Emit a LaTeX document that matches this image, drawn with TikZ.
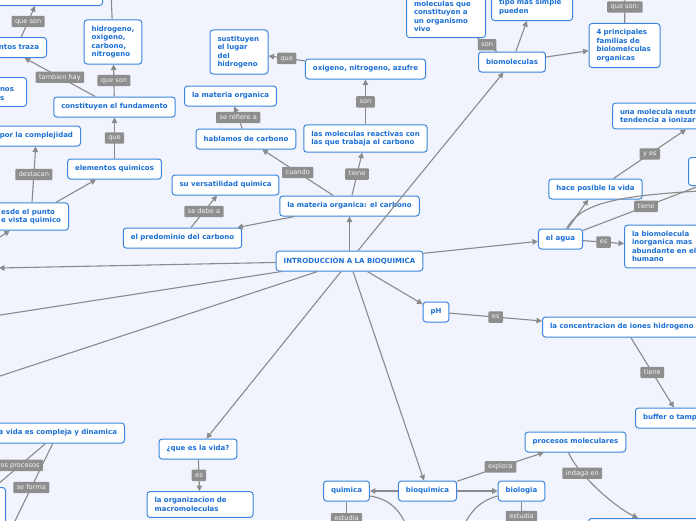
\documentclass[tikz,border=0pt]{standalone}
\usepackage{fontspec}
\setsansfont{DejaVu Sans}
\usepackage{tikz}
\usetikzlibrary{arrows.meta}
\definecolor{paper}{HTML}{F1F4FC}
\definecolor{edge}{HTML}{3A86DF}
\definecolor{ink}{HTML}{1B6FD5}
\definecolor{wire}{HTML}{8A8A8A}
\definecolor{tag}{HTML}{8E8E8E}
\definecolor{tagink}{HTML}{F4F4F4}
\tikzset{
  box/.style={draw=edge,line width=1pt,fill=white,rounded corners=3pt,text=ink,font=\sffamily\bfseries\fontsize{7}{8.4}\selectfont,inner xsep=7.5pt,inner ysep=6pt,minimum height=20pt},
  tg/.style={fill=tag,text=tagink,font=\sffamily\fontsize{6.6}{8}\selectfont,inner xsep=3.5pt,inner ysep=2.5pt,text height=5pt,text depth=1.4pt,rounded corners=1pt},
  con/.style={draw=wire,line width=1.1pt},
  arr/.style={con,-{Triangle[length=5.5pt,width=5.5pt]}}
}
\begin{document}
\begin{tikzpicture}[x=1pt,y=-1pt]
  \useasboundingbox (0,0) rectangle (696,520);
  \fill[paper] (0,0) rectangle (696,520);
  \clip (0,0) rectangle (696,520);
  \node[box] (intro) at (349.5,261) {INTRODUCCION A LA BIOQUIMICA};
  \node[box] (carbono) at (349.5,206) {la materia organica: el carbono};
  \node[box,align=left] (reactivas) at (365.5,138.5) {las moleculas reactivas con\\las que trabaja el carbono};
  \node[box] (oxi) at (365.5,69) {oxigeno, nitrogeno, azufre};
  \node[box,align=left,text width=43pt] (sust) at (239,52) {sustituyen\\el lugar\\del\\hidrogeno};
  \node[box] (hablamos) at (246,139) {hablamos de carbono};
  \node[box] (matorg) at (230.5,96) {la materia organica};
  \node[box] (versat) at (225.5,185) {su versatilidad quimica};
  \node[box] (predom) at (182.5,238) {el predominio del carbono};
  \node[box] (elem) at (114.5,169) {elementos quimicos};
  \node[box] (fund) at (114.5,107) {constituyen el fundamento};
  \node[box,align=left] (hidro) at (113,42) {hidrogeno,\\oxigeno,\\carbono,\\nitrogeno};
  \node[box,anchor=east] (traza) at (47,47.5) {entos traza};
  \node[box,anchor=south east,minimum width=130pt] (cima) at (103,6) {};
  \node[box,anchor=north west,text width=19pt,align=left] (nos) at (-8,77) {\mbox{}\\nos\\s};
  \node[box,anchor=east] (compl) at (81,136) {por la complejidad};
  \node[box,anchor=east,align=left] (desde) at (69,216.5) {esde el punto\\e vista quimico};
  \node[box,anchor=east] (vida) at (125,433) {a vida es compleja y dinamica};
  \node[box,anchor=north east,minimum width=60pt,minimum height=40pt] (hondo) at (6,487) {};
  \node[box] (quees) at (198,449) {¿que es la vida?};
  \node[box,align=left,text width=91pt] (macro) at (200,504.5) {la organizacion de\\macromoleculas};
  \node[box] (bioq) at (427.5,491) {bioquimica};
  \node[box] (quim) at (346.5,491) {quimica};
  \node[box] (biol) at (521.5,491) {biologia};
  \node[box] (proc) at (575.5,442) {procesos moleculares};
  \node[box,anchor=north west,minimum width=130pt] (indaga) at (588,518) {};
  \node[box] (ph) at (436,312) {pH};
  \node[box,anchor=west] (conc) at (542,327) {la concentracion de iones hidrogeno};
  \node[box,anchor=west] (buffer) at (635,418) {buffer o tampon};
  \node[box] (agua) at (560.5,239) {el agua};
  \node[box,anchor=west,align=left] (inorg) at (624,246.5) {la biomolecula\\inorganica mas\\abundante en el\\humano};
  \node[box] (vidap) at (595.5,189) {hace posible la vida};
  \node[box,anchor=west,align=left] (neutra) at (612,116) {una molecula neutra con\\tendencia a ionizarse};
  \node[box,anchor=north west,minimum width=60pt,minimum height=28pt] (borde) at (688,157) {};
  \node[box] (biomol) at (512,62) {biomoleculas};
  \node[box,anchor=south west,align=left,text width=64pt] (organismo) at (406,38) {moleculas que\\constituyen a\\un organismo\\vivo};
  \node[box,anchor=south west,align=left,text width=66pt] (simple) at (491,21) {tipo mas simple\\pueden};
  \node[box,align=left,text width=56pt] (familias) at (624.5,45.5) {4 principales\\familias de\\biolomelculas\\organicas};
  \coordinate (oeste) at (-1,268);
  \coordinate (so1) at (-6,316);
  \coordinate (so2) at (-6,378);
  \coordinate (arriba) at (111,-10);
  \coordinate (sw) at (-6,241);
  \coordinate (norte) at (625,-9);
  \coordinate (este) at (720,178);
  \coordinate (fuera) at (700,191);
  \coordinate (qbajo) at (346.5,540);
  \coordinate (bbajo) at (521.5,540);
  \coordinate (q2) at (408,530);
  \coordinate (b2) at (462,530);
  \coordinate (v1) at (-10,491);
  \coordinate (v2) at (13,525);
  \draw[arr] (intro) -- (carbono);
  \draw[arr] (intro) -- (biomol);
  \draw[arr] (intro) -- (agua);
  \draw[arr] (intro) -- (ph);
  \draw[arr] (intro) -- (bioq);
  \draw[arr] (intro) -- (quees);
  \draw[arr] (intro) -- (oeste);
  \draw[con] (intro) -- (so1);
  \draw[con] (intro) -- (so2);
  \draw[arr] (carbono) -- (predom);
  \draw[arr] (carbono) -- node[tg](t1){cuando} (hablamos);
  \draw[arr] (carbono) -- node[tg](t2){tiene} (reactivas);
  \draw[arr] (reactivas) -- node[tg](t3){son} (oxi);
  \draw[arr] (oxi) -- node[tg](t4){que} (sust);
  \draw[arr] (hablamos) -- node[tg](t5){se refiere a} (matorg);
  \draw[arr] (predom) -- node[tg](t6){se debe a} (versat);
  \draw[arr] (desde) -- (elem);
  \draw[arr] (desde) -- node[tg](t7){destacan} (compl);
  \draw[arr] (elem) -- node[tg](t8){que} (fund);
  \draw[arr] (fund) -- node[tg](t9){que son} (hidro);
  \draw[arr] (fund) -- node[tg](t10){tambien hay} ([xshift=8pt]traza.south);
  \draw[arr] (traza) -- node[tg](t11){que son} ([xshift=-68pt]cima.south east);
  \draw[con] (hidro) -- (arriba);
  \draw[arr] (sw) -- (desde);
  \draw[con] (biomol) -- node[tg](t12){son} (organismo);
  \draw[arr] (biomol) -- (simple);
  \draw[arr] (biomol) -- (familias);
  \draw[con] (familias) -- node[tg](t13){que son:} (norte);
  \draw[arr] (agua) -- (vidap);
  \draw[arr] (agua) -- node[tg](t14){es} (inorg);
  \draw[arr] ([xshift=18pt]vidap.north) -- node[tg](t15){y es} ([xshift=74pt]neutra.south west);
  \draw[arr] (agua) -- node[tg,pos=0.46](t16){tiene} (este);
  \draw[con] ([xshift=6pt]agua.north) .. controls (580,205) and (610,196) .. (fuera);
  \draw[arr] (ph) -- node[tg](t17){es} ([yshift=6pt]conc.west);
  \draw[arr] ([xshift=9pt]conc.south) -- node[tg](t18){tiene} ([xshift=-1pt]buffer.north);
  \draw[arr] (bioq) -- (quim);
  \draw[arr] (bioq) -- (biol);
  \draw[arr] (bioq) -- node[tg](t19){explora} (proc);
  \draw[arr] ([xshift=-7pt]proc.south) .. controls +(8,20) and +(-25,-12) .. node[tg,pos=0.3](t20){indaga en} ([xshift=50pt]indaga.north west);
  \draw[con] (quim) -- node[tg,pos=0.45](t21){estudia} (qbajo);
  \draw[con] (biol) -- node[tg,pos=0.39](t22){estudia} (bbajo);
  \draw[con] ([yshift=-5pt]quim.east) .. controls (388,499) and (400,508) .. (q2);
  \draw[con] ([yshift=-5pt]biol.west) .. controls (482,500) and (470,510) .. (b2);
  \draw[arr] (quees) -- node[tg](t23){es} (macro);
  \draw[con] (vida) -- node[tg,pos=0.46](t24){os procesos} (v1);
  \draw[con] (vida) -- node[tg,pos=0.54](t25){se forma} (v2);
\end{tikzpicture}
\end{document}
